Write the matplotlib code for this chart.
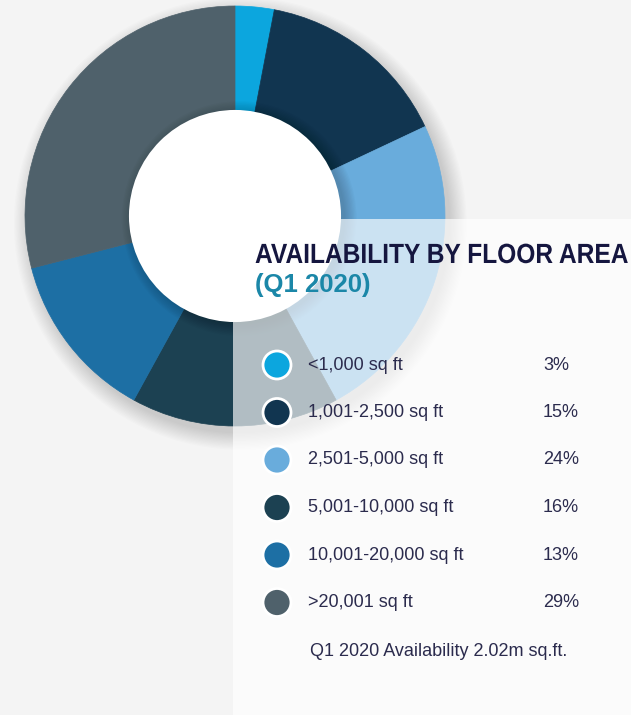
import matplotlib
matplotlib.use("Agg")
import matplotlib.pyplot as plt
from matplotlib import font_manager
from matplotlib.patches import Circle, Rectangle
from matplotlib.patheffects import AbstractPathEffect
from matplotlib.transforms import Affine2D

# floor area bands and their share of availability
bands = ["<1,000 sq ft", "1,001-2,500 sq ft", "2,501-5,000 sq ft",
         "5,001-10,000 sq ft", "10,001-20,000 sq ft", ">20,001 sq ft"]
shares = [3, 15, 24, 16, 13, 29]
colors = ["#0ca6de", "#113550", "#69acdc", "#1c4152", "#1d6fa4", "#4f616b"]

title = "AVAILABILITY BY FLOOR AREA"
subtitle = "(Q1 2020)"
footnote = "Q1 2020 Availability 2.02m sq.ft."

W, H = 631, 715
BG = "#f4f4f4"
TEXT = "#2b2b4d"


def installed(name):
    try:
        font_manager.findfont(name, fallback_to_default=False)
        return True
    except ValueError:
        return False


class Squeeze(AbstractPathEffect):
    """Compress glyphs horizontally about a fixed display x."""

    def __init__(self, sx, x0):
        super().__init__()
        self.sx = sx
        self.x0 = x0

    def draw_path(self, renderer, gc, tpath, affine, rgbFace=None):
        squeeze = Affine2D().translate(-self.x0, 0).scale(self.sx, 1).translate(self.x0, 0)
        renderer.draw_path(gc, tpath, affine + squeeze, rgbFace)


body_font = "Liberation Sans" if installed("Liberation Sans") else "DejaVu Sans"

fig = plt.figure(figsize=(W / 100, H / 100), dpi=100, facecolor=BG)

# donut, centred at (235, 216) px from the top-left with a 210 px radius
cx, cy, R, m = 235, 216, 210, 1.25
ax = fig.add_axes([(cx - R * m) / W, 1 - (cy + R * m) / H, 2 * R * m / W, 2 * R * m / H])

# soft drop shadow behind the ring
for k in range(14):
    ax.add_patch(Circle((0.025, -0.035), 1.0 + 0.006 * k, fc="black",
                        ec="none", alpha=0.013, zorder=0))

wedges, _ = ax.pie(shares, colors=colors, startangle=90, counterclock=False,
                   radius=1.0)
for w, col in zip(wedges, colors):
    w.set_edgecolor(col)
    w.set_linewidth(0.5)
    w.set_zorder(2)

# shadow the raised centre casts onto the ring
for k in range(10):
    ax.add_patch(Circle((0.02, -0.012), 0.505 + 0.006 * k, fc="black",
                        ec="none", alpha=0.02, zorder=3))
ax.add_patch(Circle((0, 0), 0.505, fc="white", ec="none", zorder=4))

ax.set_xlim(-m, m)
ax.set_ylim(-m, m)
ax.set_aspect("equal")
ax.axis("off")

# overlay in pixel coordinates for the legend panel
ov = fig.add_axes([0, 0, 1, 1])
ov.set_xlim(0, W)
ov.set_ylim(H, 0)
ov.axis("off")
ov.patch.set_alpha(0)

ov.add_patch(Rectangle((233, 219), W - 233, H - 219, fc="white", ec="none",
                       alpha=0.66, zorder=1))

# heading: full cap height, tightened towards its right end to span the panel
t = ov.text(628, 263, title, fontsize=20, fontweight="bold", family=body_font,
            color="#15163f", va="baseline", ha="right", zorder=3)
fig.canvas.draw()
natural = t.get_window_extent().width
x_right = ov.transData.transform((628, 263))[0]
t.set_path_effects([Squeeze(373 / natural, x_right)])

ov.text(255, 292, subtitle, fontsize=18.5, fontweight="bold", family=body_font,
        color="#1b87a8", va="baseline", ha="left", zorder=3)

for i, (band, share, col) in enumerate(zip(bands, shares, colors)):
    y = 365 + 47.5 * i
    ov.add_patch(Circle((277, y), 14, fc=col, ec="white", lw=2, zorder=3))
    ov.text(308, y, band, fontsize=13, family=body_font, color=TEXT,
            va="center", ha="left", zorder=3)
    ov.text(543, y, f"{share}%", fontsize=13, family=body_font, color=TEXT,
            va="center", ha="left", zorder=3)

ov.text(310, 652, footnote, fontsize=13, family=body_font, color=TEXT,
        va="center", ha="left", zorder=3)

fig.savefig("out.png", dpi=100, facecolor=BG)
